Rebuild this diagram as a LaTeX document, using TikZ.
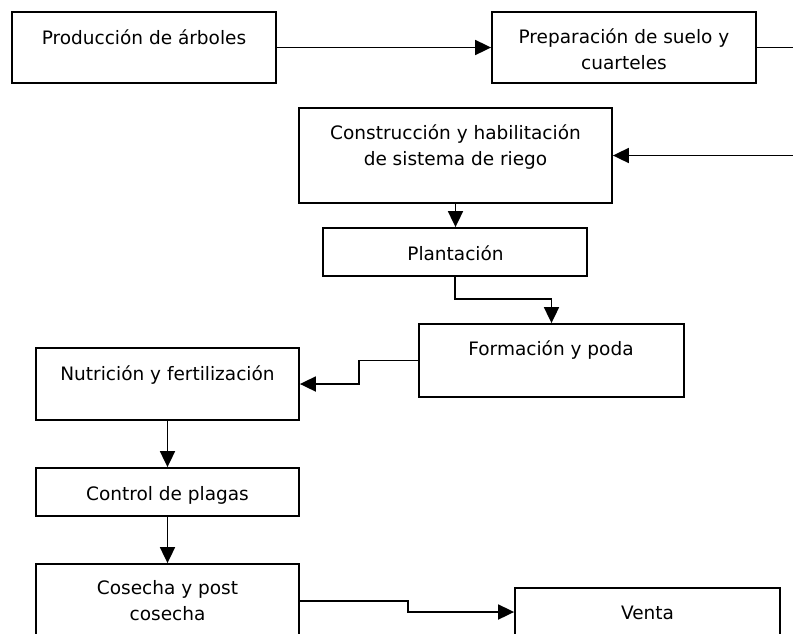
\documentclass[tikz,border=0pt]{standalone}
\usepackage{fontspec}
\setmainfont{DejaVu Sans}
\usetikzlibrary{arrows.meta}
\begin{document}
\begin{tikzpicture}[x=1pt,y=-1pt,
  box/.style={draw, line width=1.8pt, inner sep=0pt, minimum width=#1},
  lbl/.style={font=\fontsize{18.5}{25.5}\selectfont, align=center, inner sep=0pt, anchor=base},
  link/.style={line width=1.8pt},
  flow/.style={link, -{Triangle[length=16pt,width=15pt]}}]
\useasboundingbox (0,0) rectangle (793,633);
\clip (0,0) rectangle (793,633);

% process boxes
\node[box=264pt, minimum height=71pt] (b1) at (144,47.5) {};
\node[box=264pt, minimum height=71pt] (b2) at (624,47.5) {};
\node[box=313pt, minimum height=95pt] (b3) at (455.5,155.5) {};
\node[box=264pt, minimum height=48pt] (b4) at (455,252) {};
\node[box=265pt, minimum height=73pt] (b5) at (551.5,360.5) {};
\node[box=263pt, minimum height=72pt] (b6) at (167.5,384) {};
\node[box=263pt, minimum height=48pt] (b7) at (167.5,492) {};
\node[box=263pt, minimum height=74pt] (b8) at (167.5,601) {};
\node[box=265pt, minimum height=48pt] (b9) at (647.5,612) {};

% box texts (multi-line texts sit on the baseline of their last line)
\node[lbl] (t1) at (144,44) {Producción de árboles};
\node[lbl] (t2) at (624,69) {Preparación de suelo y\\cuarteles};
\node[lbl] (t3) at (455.5,165) {Construcción y habilitación\\de sistema de riego};
\node[lbl] (t4) at (455.5,260) {Plantación};
\node[lbl] (t5) at (551,355) {Formación y poda};
\node[lbl] (t6) at (167.5,380) {Nutrición y fertilización};
\node[lbl] (t7) at (167.5,500) {Control de plagas};
\node[lbl] (t8) at (167.5,620) {Cosecha y post\\cosecha};
\node[lbl] (t9) at (647.5,619) {Venta};

% connectors
\coordinate (r1) at (800,47.5);
\coordinate (r2) at (800,155.5);
\draw[flow] (b1.east) -- (b2.west);
\draw[flow] (b2.east) -- (r1) -- (r2) -- (b3.east);
\draw[flow] (b3.south) -- (b3.south |- b4.north);
\draw[flow] (b4.south) -- (455,299) -| (b5.north);
\draw[flow] (b5.west) -- (359,360.5) |- (b6.east);
\draw[flow] (b6.south) -- (b7.north);
\draw[flow] (b7.south) -- (b8.north);
\draw[flow] (b8.east) -- (408,601) |- (b9.west);
\end{tikzpicture}
\end{document}
